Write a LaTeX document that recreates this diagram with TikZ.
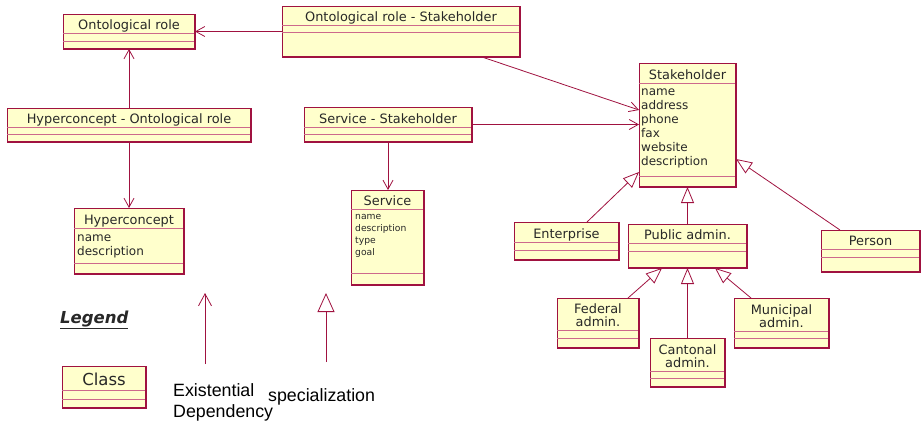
\documentclass[tikz,border=0pt]{standalone}
\usepackage{fontspec}
\setmainfont{DejaVu Sans}
\newfontfamily\legfont{Liberation Sans}
\usetikzlibrary{arrows.meta,calc}
\definecolor{umlred}{RGB}{160,18,64}
\definecolor{umlsep}{RGB}{205,105,140}
\definecolor{umlfill}{RGB}{255,255,204}
\definecolor{umltext}{RGB}{40,40,40}
\tikzset{
  classbox/.style={draw=umlred, fill=umlfill, line width=0.9pt, inner sep=0pt, outer sep=0pt, rectangle},
  sepline/.style={draw=umlsep, line width=0.9pt},
  shadowline/.style={draw=umlred, line width=1.8pt},
  classtitle/.style={inner sep=0pt, text=umltext, align=center, font=\fontsize{12.9}{13.5}\selectfont},
  attrs/.style={inner sep=0pt, text=umltext, align=left, anchor=north west},
  conn/.style={draw=umlred, line width=0.8pt},
  dep/.style={conn, -{Straight Barb[length=9pt,width=10pt,line width=0.8pt]}},
  gen/.style={conn, -{Triangle[length=16pt,width=13pt,fill=white,line width=0.8pt]}},
  legtext/.style={inner sep=0pt, font=\legfont\fontsize{17.8}{21}\selectfont, text=black},
}
\newcommand\umlclass[8]{%
  \node[classbox, minimum width={(#4-#2)*1pt}, minimum height={(#5-#3)*1pt}, anchor=north west] (#1) at (#2,#3) {};
  \draw[sepline] (#2,#6) -- (#4,#6) (#2,#7) -- (#4,#7);
  \draw[shadowline] (#1.south west) -- (#1.south east) -- (#1.north east);
  \node[classtitle, anchor=south] (#1-t) at ({(#2+#4)/2},{#6+1}) {#8\strut};
}
\begin{document}
\begin{tikzpicture}[x=1pt,y=-1pt]
\fill[white] (0,0) rectangle (922,423);
\useasboundingbox (0,0) rectangle (922,423);

\umlclass{or}{63}{14}{195}{49}{33}{41}{Ontological role}
\umlclass{orst}{282}{6}{520}{57}{25}{32}{Ontological role - Stakeholder}
\umlclass{hor}{7}{108}{251}{142}{127}{134}{Hyperconcept - Ontological role}
\umlclass{hc}{74}{208}{184}{274}{228}{263}{Hyperconcept}
\umlclass{ss}{304}{107}{472}{142}{127}{134}{Service - Stakeholder}
\umlclass{srv}{351}{190}{424}{285}{209}{273}{Service}
\umlclass{sh}{639}{63}{736}{187}{83}{176}{Stakeholder}
\umlclass{ent}{514}{222}{619}{260}{242}{250}{Enterprise}
\umlclass{pa}{628}{224}{747}{268}{243}{251}{Public admin.}
\umlclass{per}{821}{230}{920}{272}{249}{257}{Person}
\umlclass{fed}{557}{298}{639}{348}{330}{338}{Federal\\admin.}
\umlclass{can}{650}{338}{725}{387}{371}{378}{Cantonal\\admin.}
\umlclass{mun}{734}{298}{829}{348}{331}{338}{Municipal\\admin.}
\umlclass{cls}{62}{366}{146}{408}{390}{399}{\fontsize{16.5}{18}\selectfont Class}

% attributes
\node[attrs, font=\fontsize{12}{14}\selectfont] (sh-a) at (641,85.7)
  {\strut name\\address\\phone\\fax\\website\\description};
\node[attrs, font=\fontsize{12}{13}\selectfont] (hc-a) at (77,232.2)
  {\strut name\\description};
\node[attrs, font=\fontsize{9.2}{12}\selectfont] (srv-a) at (355,211.1)
  {\strut name\\description\\type\\goal};

% existential dependencies
\draw[dep] (orst.west) -- (or.east);
\draw[dep] (hor.north) -- (or.south);
\draw[dep] (hor.south) -- (hc.north);
\draw[dep] (ss.south) -- (ss.south |- srv.north);
\draw[dep] ($(orst.south east)+(-38,0)$) -- ($(sh.north west)+(0,47)$);
\draw[dep] (ss.east) -- (sh.west |- ss.east);

% specializations
\draw[gen] ($(ent.north west)+(73,0)$) -- ($(sh.south west)+(0,-15)$);
\draw[gen] (pa.north) -- (sh.south);
\draw[gen] ($(per.north west)+(19,0)$) -- ($(sh.south east)+(0,-28)$);
\draw[gen] ($(fed.north east)+(-11,0)$) -- ($(pa.south west)+(34,0)$);
\draw[gen] (can.north) -- (pa.south);
\draw[gen] ($(mun.north west)+(17,0)$) -- ($(pa.south east)+(-32,0)$);

% legend
\node[inner sep=0pt, anchor=base west, font=\fontsize{16.5}{18}\selectfont\bfseries\itshape, text=umltext] (leg) at (60,323.3) {\underline{Legend}};
\coordinate (ed0) at (205,364);
\coordinate (ed1) at (205,293);
\draw[conn, -{Straight Barb[length=12pt,width=13pt,line width=0.8pt]}] (ed0) -- (ed1);
\coordinate (sp0) at (326,362);
\coordinate (sp1) at (326,293);
\draw[conn, -{Triangle[length=19pt,width=17pt,fill=white,line width=0.8pt]}] (sp0) -- (sp1);
\node[legtext, anchor=base west] (edl1) at (173,396) {Existential};
\node[legtext, anchor=base west] (edl2) at (173,417.7) {Dependency};
\node[legtext, anchor=base west] (spl) at (268,401.7) {specialization};
\end{tikzpicture}
\end{document}
